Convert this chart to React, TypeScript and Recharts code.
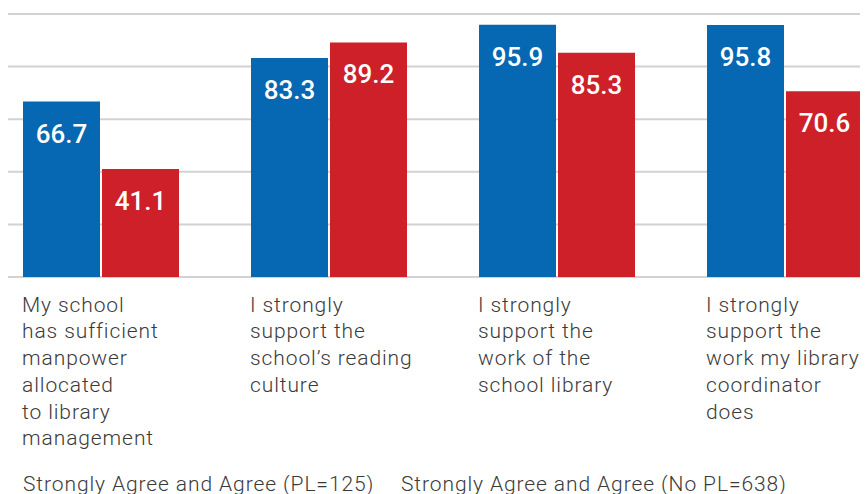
import React from "react";
import { BarChart, Bar, XAxis, YAxis, CartesianGrid, Legend, LabelList } from "recharts";

const categories = [
  "My school has sufficient manpower allocated to library management",
  "I strongly support the school's reading culture",
  "I strongly support the work of the school library",
  "I strongly support the work my library coordinator does",
];
const tickLines = [
  ["My school", "has sufficient", "manpower", "allocated", "to library", "management"],
  ["I strongly", "support the", "school\u2019s reading", "culture"],
  ["I strongly", "support the", "work of the", "school library"],
  ["I strongly", "support the", "work my library", "coordinator", "does"],
];
const seriesPL = [66.7, 83.3, 95.9, 95.8];
const seriesNoPL = [41.1, 89.2, 85.3, 70.6];
const seriesNames = ["Strongly Agree and Agree (PL=125)", "Strongly Agree and Agree (No PL=638)"];
const yTicks = [0, 20, 40, 60, 80, 100];

const data = categories.map((c, i) => ({ name: c, pl: seriesPL[i], nopl: seriesNoPL[i], idx: i }));

const BLUE = "#0667B2";
const RED = "#CD2028";
const FONT = "Roboto, 'Noto Sans', sans-serif";

const CategoryTick = (props: any) => {
  const { x, y, payload } = props;
  const i = categories.indexOf(payload.value);
  const lines = tickLines[i] || [];
  return (
    <text x={x - 79} y={y + 34.7} fill="#3a3a3a" fontSize={21} fontWeight={300} fontFamily={FONT} letterSpacing={0.9}>
      {lines.map((l, k) => (
        <tspan key={k} x={x - 79} dy={k === 0 ? 0 : 26.7}>
          {l}
        </tspan>
      ))}
    </text>
  );
};

const ValueLabel = (props: any) => {
  const { x, y, width, value } = props;
  return (
    <text x={x + width / 2} y={y + 41} textAnchor="middle" fill="#ffffff" fontSize={26} fontWeight={500} fontFamily={FONT}>
      {Number(value).toFixed(1)}
    </text>
  );
};

const LegendContent = (props: any) => {
  const payload = [...(props.payload || [])].sort(
    (a: any, b: any) => seriesNames.indexOf(a.value) - seriesNames.indexOf(b.value)
  );
  const lefts = [15, 393];
  return (
    <div style={{ position: "relative", height: 30, fontFamily: FONT, fontSize: 21, fontWeight: 300, color: "#3a3a3a", letterSpacing: 0.9 }}>
      {payload.map((p: any, k: number) => (
        <span key={k} style={{ position: "absolute", left: lefts[k], top: 5, lineHeight: "30px", whiteSpace: "nowrap" }}>
          {p.value}
        </span>
      ))}
    </div>
  );
};

export default function App() {
  return (
    <BarChart width={860} height={486} data={data} margin={{ top: 6, right: 0, bottom: 0, left: 0 }} barGap={2} barSize={77}>
      <CartesianGrid vertical={false} stroke="#d2d2d2" strokeWidth={2} />
      <XAxis
        dataKey="name"
        height={187}
        tickLine={false}
        axisLine={false}
        tickSize={0}
        tickMargin={0}
        interval={0}
        padding={{ left: -21, right: -31 }}
        tick={<CategoryTick />}
      />
      <YAxis hide domain={[0, 100]} ticks={yTicks} />
      <Legend verticalAlign="bottom" height={30} content={<LegendContent />} />
      <Bar dataKey="pl" name={seriesNames[0]} fill={BLUE} isAnimationActive={false}>
        <LabelList dataKey="pl" content={<ValueLabel />} />
      </Bar>
      <Bar dataKey="nopl" name={seriesNames[1]} fill={RED} isAnimationActive={false}>
        <LabelList dataKey="nopl" content={<ValueLabel />} />
      </Bar>
    </BarChart>
  );
}
